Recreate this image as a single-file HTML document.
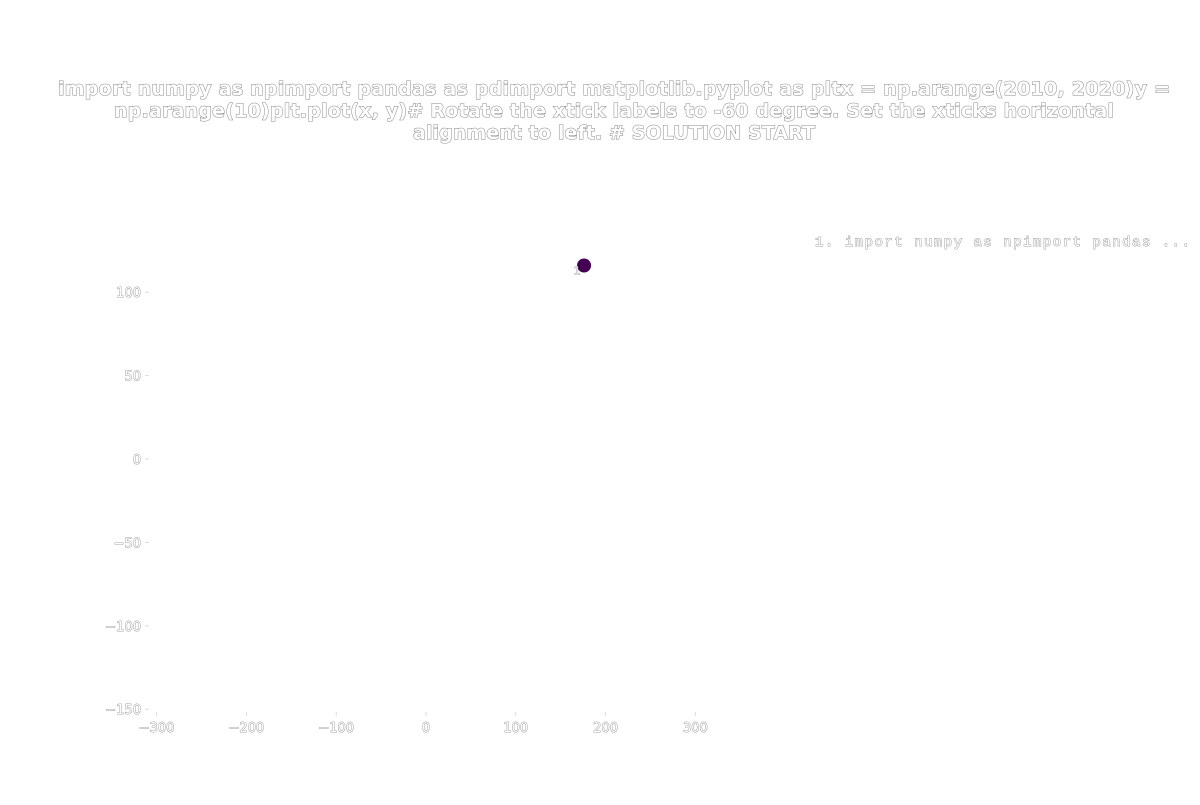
<!DOCTYPE html>
<html><head><meta charset="utf-8"><style>
body{margin:0;background:#fff;width:1200px;height:800px;overflow:hidden}
svg text{font-family:"DejaVu Sans","Liberation Sans",sans-serif;fill:#fff;stroke:#888;stroke-width:1px;paint-order:stroke}
</style></head><body>
<svg id="chart" width="1200" height="800">
<g>
<text x="614" y="95" text-anchor="middle" font-size="19" textLength="1112" style="font-weight:bold">import numpy as npimport pandas as pdimport matplotlib.pyplot as pltx = np.arange(2010, 2020)y =</text>
<text x="614" y="117" text-anchor="middle" font-size="19" textLength="1000" style="font-weight:bold">np.arange(10)plt.plot(x, y)# Rotate the xtick labels to -60 degree. Set the xticks horizontal</text>
<text x="614" y="139" text-anchor="middle" font-size="19" textLength="402" style="font-weight:bold">alignment to left. # SOLUTION START</text>
</g>
<text x="815" y="246" font-size="14" textLength="375" style="font-family:'Liberation Mono',monospace;stroke-width:0.8px">1. import numpy as npimport pandas ...</text>
<g id="xaxis"></g>
<g id="yaxis"></g>
<g id="marks"></g>
</svg>
<script>
const xTicks=[-300,-200,-100,0,100,200,300];
const yTicks=[-150,-100,-50,0,50,100];
const xVals=[176];
const yVals=[116];
const labels=["1"];
const NS="http://www.w3.org/2000/svg";
const xs=v=>426+v*0.898;
const ys=v=>459-v*1.668;
function mk(t,a,p){const e=document.createElementNS(NS,t);for(const k in a)e.setAttribute(k,a[k]);p.appendChild(e);return e;}
const xa=document.getElementById('xaxis'),ya=document.getElementById('yaxis'),mg=document.getElementById('marks');
xTicks.forEach(v=>{
 const l=mk('line',{x1:xs(v),x2:xs(v),y1:712,y2:716,stroke:'#ddd'},xa);
 
 
 const t=mk('text',{x:xs(v),y:732,'text-anchor':'middle','font-size':13,style:'stroke-width:0.8px'},xa);
 t.textContent=v<0?'\u2212'+(-v):String(v);
 
 
});
yTicks.forEach(v=>{
 const l=mk('line',{x1:145,x2:149,y1:ys(v),y2:ys(v),stroke:'#ddd'},ya);
 
 
 const t=mk('text',{x:141,y:ys(v)+5,'text-anchor':'end','font-size':13,style:'stroke-width:0.8px'},ya);
 t.textContent=v<0?'\u2212'+(-v):String(v);
 
 
});
xVals.forEach((v,i)=>{
 const c=mk('circle',{cx:xs(v),cy:ys(yVals[i]),r:7,fill:'#440154'},mg);
 
 
 const t=mk('text',{x:xs(v)-7,y:ys(yVals[i])+9,'text-anchor':'middle','font-size':11,style:'stroke-width:0.8px'},mg);
 t.textContent=labels[i];
 
 
});
</script>
</body></html>
